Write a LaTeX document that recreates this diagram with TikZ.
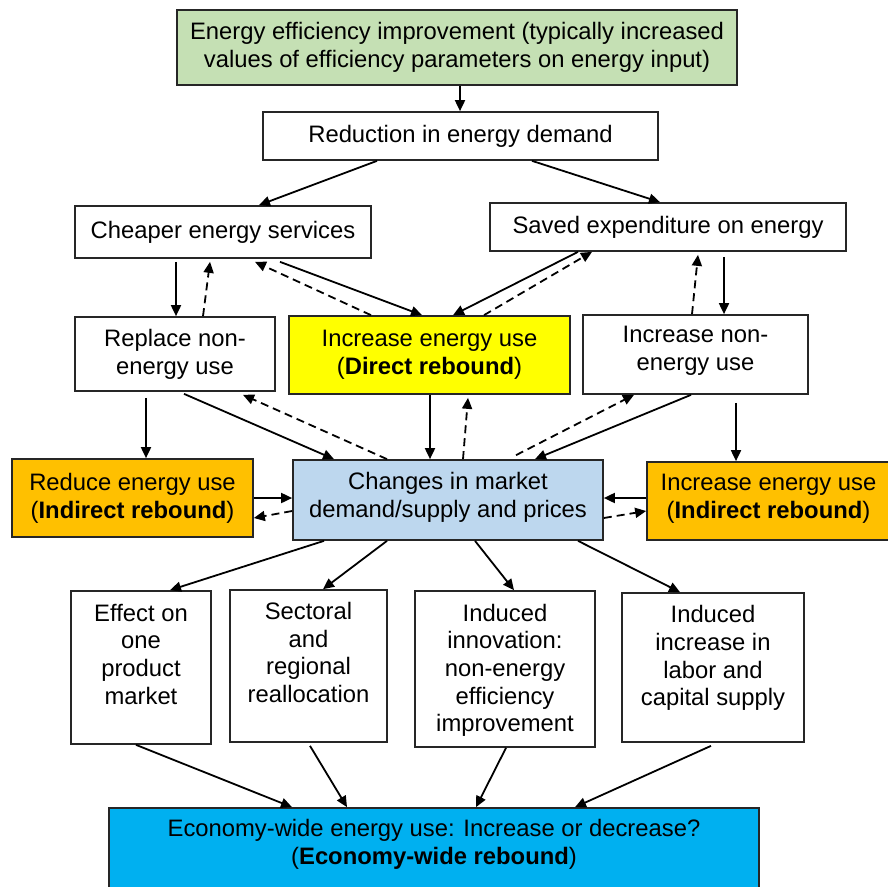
\documentclass[tikz,border=0pt]{standalone}
\usepackage{fontspec}
\setmainfont{Liberation Sans}
\usetikzlibrary{arrows.meta,calc}
\definecolor{cgreen}{HTML}{C5E0B4}
\definecolor{cyellow}{HTML}{FFFF00}
\definecolor{corange}{HTML}{FFC000}
\definecolor{clblue}{HTML}{BDD7EE}
\definecolor{cblue}{HTML}{00B0F0}
\definecolor{cborder}{HTML}{262626}
\newcommand\myfs{\fontsize{23.8}{27.7}\selectfont}
\begin{document}
\begin{tikzpicture}[x=1pt,y=-1pt,
  box/.style={draw=cborder,line width=1.7pt,rectangle,inner sep=0pt,align=center,font=\myfs},
  txt/.style={inner sep=0pt,align=center,font=\myfs},
  arr/.style={line width=1.8pt,-{Triangle[length=11pt,width=10pt]}},
  darr/.style={arr,dash pattern=on 8pt off 5pt}]
\useasboundingbox (0,0) rectangle (888,886);
% boxes
\node[box,fill=cgreen,minimum width=560pt,minimum height=75pt] (top) at (457,47.5)
  {Energy efficiency improvement (typically increased\\values of efficiency parameters on energy input)};
\node[box,minimum width=395pt,minimum height=48pt] (red) at (460.5,136) {Reduction in energy demand};
\node[box,minimum width=296pt,minimum height=52pt] (cheap) at (223,232) {Cheaper energy services};
\node[box,minimum width=356pt,minimum height=48pt] (saved) at (668,227) {Saved expenditure on energy};
\node[box,minimum width=200pt,minimum height=74pt] (repl) at (175,354) {Replace non-\\energy use};
\node[box,fill=cyellow,minimum width=281pt,minimum height=78pt] (direct) at (429.5,355)
  {Increase energy use\\(\textbf{Direct rebound})};
\node[box,minimum width=225pt,minimum height=79pt] (incnon) at (695.5,354.5) {};
\node[txt] (incnont) at (695.5,351) {Increase non-\\energy use};
\node[box,fill=corange,minimum width=241pt,minimum height=78pt] (reduce) at (132.5,498)
  {Reduce energy use\\(\textbf{Indirect rebound})};
\node[box,fill=clblue,minimum width=310pt,minimum height=80pt] (changes) at (448,500) {};
\node[txt] (changest) at (448,497) {Changes in market\\demand/supply and prices};
\node[box,fill=corange,minimum width=243pt,minimum height=78pt] (incr) at (768.5,501) {};
\node[txt] (incrt) at (768.5,498.5) {Increase energy use\\(\textbf{Indirect rebound})};
\node[box,minimum width=140pt,minimum height=153pt] (effect) at (141,667.5) {};
\node[box,minimum width=157pt,minimum height=152pt] (sect) at (308.5,666) {};
\node[box,minimum width=180pt,minimum height=156pt] (innov) at (505,669) {};
\node[box,minimum width=182pt,minimum height=149pt] (labor) at (713,667.5) {};
\node[txt,anchor=north] (effectt) at ([yshift=-11.3pt]effect.north) {\strut Effect on\\one\\product\\market};
\node[txt,anchor=north] (sectt) at ([yshift=-10.6pt]sect.north) {\strut Sectoral\\and\\regional\\reallocation};
\node[txt,anchor=north] (innovt) at ([yshift=-11.3pt]innov.north) {\strut Induced\\innovation:\\non-energy\\efficiency\\improvement};
\node[txt,anchor=north] (labort) at ([yshift=-10.9pt]labor.north) {\strut Induced\\increase in\\labor and\\capital supply};
\node[box,fill=cblue,minimum width=650pt,minimum height=84pt] (econ) at (434,850) {};
\node[txt] (econt) at (434,844) {Economy-wide energy use: Increase or decrease?\\(\textbf{Economy-wide rebound})};
% arrows
\draw[arr] (top.south -| 460,0) -- (red.north -| 460,0);
\draw[arr] (red.south -| 377,0) -- (cheap.north -| 259,0);
\draw[arr] (red.south -| 532,0) -- (saved.north -| 660,0);
\draw[arr] ([yshift=-3pt]cheap.south -| 176,0) -- (repl.north -| 176,0);
\draw[darr] (repl.north -| 203,0) -- ([yshift=-3pt]cheap.south -| 210,0);
\draw[darr] (direct.north -| 371,0) -- ([yshift=-3pt]cheap.south -| 255,0);
\draw[arr] ([yshift=-3pt]cheap.south -| 280,0) -- (direct.north -| 422,0);
\draw[arr] (saved.south -| 578,0) -- (direct.north -| 453,0);
\draw[darr] (direct.north -| 484,0) -- (saved.south -| 592,0);
\draw[darr] (incnon.north -| 692,0) -- ([yshift=-3pt]saved.south -| 698,0);
\draw[arr] ([yshift=-5pt]saved.south -| 724,0) -- (incnon.north -| 724,0);
\draw[arr] ([yshift=-6pt]repl.south -| 146,0) -- (reduce.north -| 146,0);
\draw[arr] ([yshift=-2pt]repl.south -| 184,0) -- (changes.north -| 334,0);
\draw[darr] (changes.north -| 387,0) -- ([yshift=-3pt]repl.south -| 243,0);
\draw[arr] (direct.south -| 430,0) -- (changes.north -| 430,0);
\draw[darr] (changes.north -| 463,0) -- ([yshift=-3pt]direct.south -| 468,0);
\draw[darr] ([yshift=4pt]changes.north -| 516,0) -- (incnon.south -| 634,0);
\draw[arr] (incnon.south -| 691,0) -- (changes.north -| 535,0);
\draw[arr] ([yshift=-8pt]incnon.south -| 736,0) -- (incr.north -| 736,0);
\draw[arr] (reduce.east |- 0,498) -- (changes.west |- 0,498);
\draw[darr] (changes.west |- 0,511) -- (reduce.east |- 0,518);
\draw[arr] (incr.west |- 0,498) -- (changes.east |- 0,498);
\draw[darr] (changes.east |- 0,518) -- (incr.west |- 0,511);
\draw[arr] (changes.south -| 324,0) -- (effect.north -| 170,0);
\draw[arr] (changes.south -| 387,0) -- (sect.north -| 323,0);
\draw[arr] (changes.south -| 475,0) -- (innov.north -| 514,0);
\draw[arr] (changes.south -| 578,0) -- (labor.north -| 680,0);
\draw[arr] (effect.south -| 136,0) -- (econ.north -| 292,0);
\draw[arr] ([yshift=-3pt]sect.south -| 310,0) -- (econ.north -| 347,0);
\draw[arr] (innov.south -| 506,0) -- (econ.north -| 476,0);
\draw[arr] ([yshift=-3pt]labor.south -| 711,0) -- (econ.north -| 575,0);
\end{tikzpicture}
\end{document}
